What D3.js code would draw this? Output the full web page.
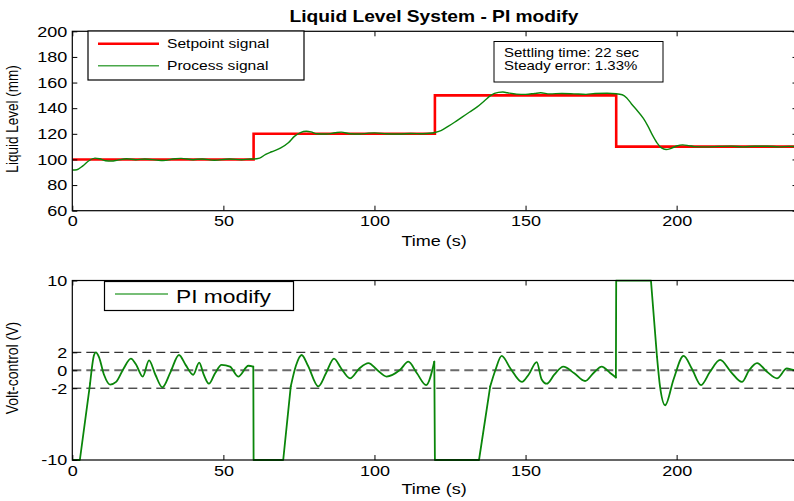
<!DOCTYPE html>
<html><head><meta charset="utf-8">
<script src="https://cdn.jsdelivr.net/npm/d3@7"></script>
<style>
html,body{margin:0;padding:0;background:#fff;}
svg{display:block;}
text{font-family:"Liberation Sans",Arial,Helvetica,sans-serif;fill:#000;}
</style></head>
<body><svg id="chart" width="794" height="501"></svg>
<script>
// ---------- data ----------
const titleText = "Liquid Level System - PI modify";
const timeTicks = [0, 50, 100, 150, 200];
const levelTicks = [60, 80, 100, 120, 140, 160, 180, 200];
const voltTicks = [-10, -2, 0, 2, 10];
const refLines = [2, 0, -2];

const setpointTimes  = [0, 60, 120, 180, 240];
const setpointValues = [100, 120, 150, 110, 110];

const processTimes = [0,1.5,3.5,5.5,7.5,9,11,13,15,18,21,24,28,30,34,36,40,43,47,52,56,59,60,
  62,64,66,69,71.5,73.5,75.5,77.5,79,81,84,87,89,92,95,98,100,104,108,112,116,119,
  120,122,124.5,126.5,129,131.5,134,136.5,138.5,141,142.5,144,147,150,153,155,158,162,166,170,173,177,180,
  182,183.5,185,187,189,190.5,192,193.5,195,196.5,198,200,202,204,206,210,214,218,222,226,230,234,237,240];
const processValues = [91.8,92,95,99,101,100.5,99,98.8,99.5,100.5,99.8,100.3,99.5,99.2,100.5,100.8,99.8,100.4,99.4,100.3,99.8,100.3,100.3,
  101,104,106,109,113,118,121,122,121.5,120,119.8,120.8,121.3,120,119.8,120.5,120.7,120,119.8,120.3,120,120.6,
  121,122.5,126,129,133,137,141,146,150,152.3,152.6,152,151,150.8,151.5,152,151.2,151.5,151.2,150.8,151.5,151.6,151.3,
  150.5,148,143.5,138,132,126,119,113,109,107.8,108.5,110.5,111.4,110.8,110,109.8,110.2,110.4,109.8,110.3,110.3,109.8,110.2,110];

const controlTimes = [0,2.5,5.9,7.2,7.8,8.8,10.5,12.5,14.5,17,19.4,21,23.3,25.4,27.5,29.8,32.5,35.3,37.5,40,42,43.5,45.2,47.3,49.4,52.2,54.9,58.3,59.9,
  60,69.8,72.3,74,75.9,78,81.4,84,86.6,89,91.9,95,98,101,104,108.5,111.2,114,117.1,119.8,
  120,134.6,138.3,140,142.1,145,148.8,151,153.7,155.3,157,159.5,162.5,166,169.7,172.5,175.2,178,179.9,
  180,191.5,193.5,194.5,196.2,199,202.3,205,208.1,211,214.4,218,221.6,224,226.6,230,233.2,236.5,238.6,240];
const controlValues = [-10,-10,-1.45,1.7,2.0,1.5,-0.5,-1.6,-1.3,0.2,1.3,0.7,-0.7,1.1,-0.5,-1.9,-0.2,1.7,0.6,-0.5,0.85,-0.5,-1.5,-0.3,0.6,0.4,-0.7,0.5,0.4,
  -10,-10,-1.8,0.5,1.7,0.5,-1.8,-0.3,1.3,0.2,-0.9,0.2,0.8,0.0,-0.7,0.05,0.95,-0.3,-1.65,0.95,
  -10,-10,-1.8,0,1.6,0.2,-1.3,-0.5,0.9,-1.0,-1.5,-0.5,0.4,-0.3,-1.2,-0.3,0.4,-0.3,-0.8,
  10,10,1.5,-1.8,-3.9,-1.0,1.6,0.2,-1.65,-0.2,1.15,-0.2,-1.3,0,0.8,-0.2,-0.9,0.2,0.05,0.1];

const legendTop = ["Setpoint signal", "Process signal"];
const legendBottom = ["PI modify"];
const infoLines = ["Settling time: 22 sec", "Steady error: 1.33%"];

// ---------- layout ----------
const SX = 1.2; // horizontal text stretch seen in the reference
const svg = d3.select("#chart");
const X0 = 72.3, X1 = 797.5;
const topBox = {y0: 31.3, y1: 210.7};
const botBox = {y0: 280.5, y1: 460};
const RED = "#ff0000", GREEN = "#0a860a";

const x = d3.scaleLinear().domain([0, 240]).range([X0, X1]);
const yTop = d3.scaleLinear().domain([60, 200]).range([topBox.y1, topBox.y0]);
const yBot = d3.scaleLinear().domain([-10, 10]).range([botBox.y1, botBox.y0]);

function stext(g, px, py, str, size, anchor, weight, rot) {
  return g.append("text")
    .attr("transform", `translate(${px},${py}) scale(${SX},1)` + (rot ? ` rotate(${rot})` : ""))
    .attr("text-anchor", anchor || "start")
    .attr("font-size", size + "px")
    .attr("font-weight", weight || "normal")
    .text(str);
}

function styleTicks(g, isLeft) {
  g.select(".domain").remove();
  g.selectAll(".tick line").attr("stroke", "#000").attr("stroke-width", 1);
  g.selectAll(".tick text")
    .attr("font-size", "15px")
    .attr("fill", "#000")
    .attr("font-family", '"Liberation Sans",Arial,sans-serif')
    .attr("transform", `scale(${SX},1)`);
  if (isLeft) g.selectAll(".tick text").attr("x", -5 / SX);
}

const plainFmt = d => String(d);

function drawFrame(yScale, box, yTicks, xLabelY) {
  const g = svg.append("g");
  g.append("g").attr("transform", `translate(0,${box.y1})`)
    .call(d3.axisBottom(x).tickValues(timeTicks).tickSizeInner(-5).tickSizeOuter(0).tickPadding(5).tickFormat(plainFmt))
    .call(s => styleTicks(s, false));
  g.append("g").attr("transform", `translate(0,${box.y0})`)
    .call(d3.axisTop(x).tickValues(timeTicks).tickSizeInner(-5).tickSizeOuter(0).tickFormat(""))
    .call(s => styleTicks(s, false));
  g.append("g").attr("transform", `translate(${X0},0)`)
    .call(d3.axisLeft(yScale).tickValues(yTicks).tickSizeInner(-5).tickSizeOuter(0).tickPadding(5).tickFormat(plainFmt))
    .call(s => styleTicks(s, true));
  g.append("g").attr("transform", `translate(${X1},0)`)
    .call(d3.axisRight(yScale).tickValues(yTicks).tickSizeInner(-5).tickSizeOuter(0).tickFormat(""))
    .call(s => styleTicks(s, false));
  g.append("rect").attr("x", X0).attr("y", box.y0)
    .attr("width", X1 - X0).attr("height", box.y1 - box.y0)
    .attr("fill", "none").attr("stroke", "#000").attr("stroke-width", 1.2);
  stext(svg, 434, xLabelY, "Time (s)", 15, "middle");
  return g;
}

// ---------- top chart ----------
stext(svg, 434, 22, titleText, 16, "middle", "bold");
svg.append("clipPath").attr("id", "cTop").append("rect")
  .attr("x", X0).attr("y", topBox.y0).attr("width", X1 - X0).attr("height", topBox.y1 - topBox.y0);

const spData = setpointTimes.map((t, i) => [t, setpointValues[i]]);
const pvData = processTimes.map((t, i) => [t, processValues[i]]);

svg.append("path").attr("clip-path", "url(#cTop)")
  .attr("d", d3.line().x(d => x(d[0])).y(d => yTop(d[1])).curve(d3.curveStepAfter)(spData))
  .attr("fill", "none").attr("stroke", RED).attr("stroke-width", 2.6);
svg.append("path").attr("clip-path", "url(#cTop)")
  .attr("d", d3.line().x(d => x(d[0])).y(d => yTop(d[1])).curve(d3.curveMonotoneX)(pvData))
  .attr("fill", "none").attr("stroke", GREEN).attr("stroke-width", 1.4);

drawFrame(yTop, topBox, levelTicks, 246);

// top legend
const lg = svg.append("g");
lg.append("rect").attr("x", 88).attr("y", 31).attr("width", 216).attr("height", 49)
  .attr("fill", "#fff").attr("stroke", "#000").attr("stroke-width", 1.2);
const legColors = [RED, "#4aa84a"];
const legWidths = [2.4, 1.5];
legendTop.forEach((lab, i) => {
  const yy = 43.7 + i * 22;
  lg.append("line").attr("x1", 98).attr("x2", 159).attr("y1", yy).attr("y2", yy)
    .attr("stroke", legColors[i]).attr("stroke-width", legWidths[i]);
  stext(lg, 167, yy + 4.6, lab, 13, "start");
});

// info box
const ib = svg.append("g");
ib.append("rect").attr("x", 494).attr("y", 41.5).attr("width", 169).attr("height", 40.5)
  .attr("fill", "#fff").attr("stroke", "#000").attr("stroke-width", 1);
infoLines.forEach((s, i) => stext(ib, 504, 56.5 + i * 13.5, s, 12.5, "start"));

// y labels
stext(svg, 18, 119, "Liquid Level (mm)", 13.5, "middle", "normal", -90);
stext(svg, 18, 368, "Volt-control (V)", 14, "middle", "normal", -90);

// ---------- bottom chart ----------
svg.append("clipPath").attr("id", "cBot").append("rect")
  .attr("x", X0).attr("y", botBox.y0 - 1).attr("width", X1 - X0).attr("height", botBox.y1 - botBox.y0 + 2);

refLines.forEach(v => {
  svg.append("line").attr("x1", X0).attr("x2", X1).attr("y1", yBot(v)).attr("y2", yBot(v))
    .attr("stroke", v === 0 ? "#6a6a6a" : "#000")
    .attr("stroke-width", v === 0 ? 1.8 : 1)
    .attr("stroke-dasharray", "9,5");
});

// control signal: straight pieces where the output is saturated, smooth elsewhere
const cvData = controlTimes.map((t, i) => [t, controlValues[i]]);
const sat = d => Math.abs(d[1]) >= 10;
const runs = [];
for (let i = 0; i < cvData.length - 1; i++) {
  const type = (sat(cvData[i]) || sat(cvData[i + 1])) ? "lin" : "mono";
  const last = runs[runs.length - 1];
  if (last && last.type === type) last.pts.push(cvData[i + 1]);
  else runs.push({type, pts: [cvData[i], cvData[i + 1]]});
}
const cg = svg.append("g").attr("clip-path", "url(#cBot)");
runs.forEach(r => {
  cg.append("path")
    .attr("d", d3.line().x(d => x(d[0])).y(d => yBot(d[1]))
      .curve(r.type === "lin" ? d3.curveLinear : d3.curveMonotoneX)(r.pts))
    .attr("fill", "none").attr("stroke", GREEN).attr("stroke-width", 1.8)
    .attr("stroke-linejoin", "round").attr("stroke-linecap", "round");
});

drawFrame(yBot, botBox, voltTicks, 494);

const lb = svg.append("g");
lb.append("rect").attr("x", 104.5).attr("y", 281.5).attr("width", 189).attr("height", 29)
  .attr("fill", "#fff").attr("stroke", "#000").attr("stroke-width", 1.2);
lb.append("line").attr("x1", 115).attr("x2", 168).attr("y1", 294).attr("y2", 294)
  .attr("stroke", "#4aa84a").attr("stroke-width", 1.5);
stext(lb, 176, 302.5, legendBottom[0], 19, "start");
</script></body></html>
